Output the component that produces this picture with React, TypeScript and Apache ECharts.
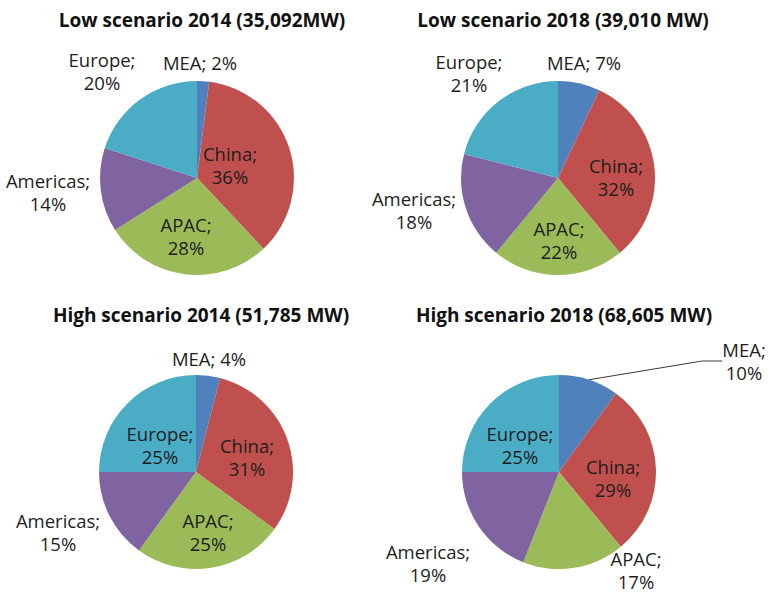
import React, { useEffect, useRef } from "react";
import * as echarts from "echarts";

// Regional shares of installed capacity, clockwise from 12 o'clock
const regions = ["MEA", "China", "APAC", "Americas", "Europe"];
const low2014 = [2, 36, 28, 14, 20];
const low2018 = [7, 32, 22, 18, 21];
const high2014 = [4, 31, 25, 15, 25];
const high2018 = [10, 29, 17, 19, 25];
const titles = [
  "Low scenario 2014 (35,092MW)",
  "Low scenario 2018 (39,010 MW)",
  "High scenario 2014 (51,785 MW)",
  "High scenario 2018 (68,605 MW)",
];

const colors = ["#4f81bd", "#c0504d", "#9bbb59", "#8064a2", "#4bacc6"];
const FONT = "'Open Sans', Lato, sans-serif";

// Pie placement (center x, center y) and title positions
const pieCenters: [number, number][] = [
  [197, 178],
  [558, 178],
  [196, 472],
  [559, 472],
];
const titleY = [5, 5, 300, 300];
const radius = 97;

// Label block centers for each slice (MEA, China, APAC, Americas, Europe)
const labelSpots: [number, number][][] = [
  [[200, 62], [230, 165], [186, 236], [48, 192], [102, 71]],
  [[584, 62], [616, 177], [559, 240], [414, 210], [469, 73]],
  [[209, 358], [247, 457], [208, 532], [58, 532], [160, 445]],
  [[744, 361], [613, 478], [636, 570], [428, 563], [520, 445]],
];
// Which MEA labels are written on one line
const singleLineMEA = [true, true, true, false];

export default function App() {
  const ref = useRef<HTMLDivElement>(null);

  useEffect(() => {
    if (!ref.current) return;
    const chart = echarts.init(ref.current, undefined, { renderer: "svg" });
    const datasets = [low2014, low2018, high2014, high2018];

    const series = datasets.map((vals, si) => ({
      type: "pie" as const,
      center: pieCenters[si],
      radius: radius,
      startAngle: 90,
      clockwise: true,
      avoidLabelOverlap: false,
      silent: true,
      itemStyle: { borderWidth: 0 },
      label: {
        show: true,
        position: "outside" as const,
        color: "#1e1e1e",
        fontFamily: FONT,
        fontSize: 18.5,
        lineHeight: 23,
        align: "center" as const,
        formatter: (p: any) =>
          p.dataIndex === 0 && singleLineMEA[si]
            ? `${p.name}; ${p.value}%`
            : `${p.name};\n${p.value}%`,
      },
      labelLine: { show: false },
      labelLayout: (p: any) => {
        const [x, y] = labelSpots[si][p.dataIndex];
        return { x, y, align: "center", verticalAlign: "middle" };
      },
      data: regions.map((name, i) => {
        const item: any = {
          name,
          value: vals[i],
          itemStyle: { color: colors[i] },
        };
        if (si === 3 && i === 0) {
          item.labelLine = {
            show: true,
            length: 20,
            length2: 20,
            smooth: false,
            lineStyle: { color: "#3a3a3a", width: 1 },
          };
        }
        return item;
      }),
    }));

    chart.setOption({
      animation: false,
      backgroundColor: "#ffffff",
      color: colors,
      title: titles.map((t, i) => ({
        text: t,
        left: pieCenters[i][0],
        top: titleY[i],
        textAlign: "center",
        textStyle: {
          fontFamily: FONT,
          fontWeight: "bold",
          fontSize: 19,
          color: "#111",
        },
      })),
      series,
    });

    return () => chart.dispose();
  }, []);

  return (
    <div
      ref={ref}
      style={{ position: "absolute", left: 0, top: 0, width: 768, height: 607 }}
    />
  );
}
